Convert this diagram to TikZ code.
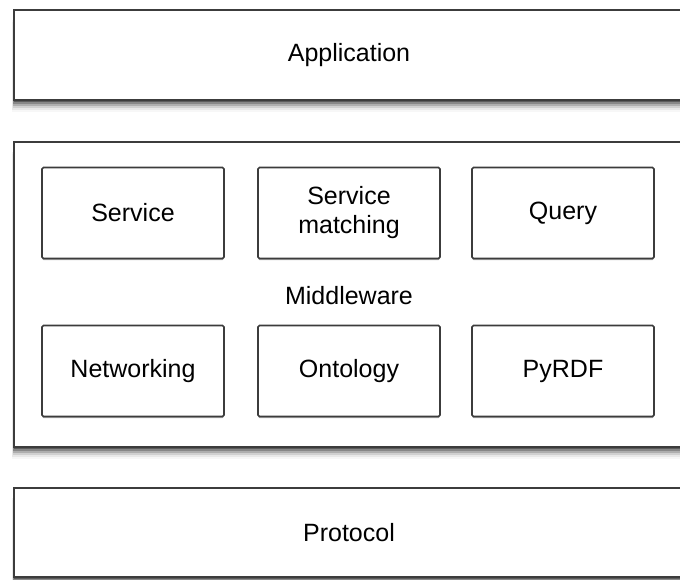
\documentclass[tikz,border=0pt]{standalone}
\usepackage{fontspec}
\setmainfont{Liberation Sans}
\usetikzlibrary{shadows}
\definecolor{edge}{HTML}{3C3C3C}
\begin{document}
\begin{tikzpicture}[x=1pt,y=-1pt,
  every node/.style={font=\fontsize{25}{29}\selectfont, text=black, inner sep=0pt},
  bigshadow/.style={
    drop shadow={shadow xshift=0pt, shadow yshift=-2pt, opacity=0.3, fill=black},
    drop shadow={shadow xshift=-1pt, shadow yshift=-4pt, opacity=0.22, fill=black},
    drop shadow={shadow xshift=-1pt, shadow yshift=-6pt, opacity=0.16, fill=black},
    drop shadow={shadow xshift=-1.5pt, shadow yshift=-8pt, opacity=0.1, fill=black},
    drop shadow={shadow xshift=-2pt, shadow yshift=-10pt, opacity=0.06, fill=black},
    drop shadow={shadow xshift=-2pt, shadow yshift=-12pt, opacity=0.03, fill=black}},
  layer/.style={draw=edge, line width=2pt, fill=white, rectangle, minimum width=670pt, bigshadow},
  module/.style={draw=edge, line width=1.6pt, fill=white, rectangle, rounded corners=1.5pt,
    minimum width=182pt, minimum height=91pt, align=center,
    drop shadow={shadow xshift=0pt, shadow yshift=-1.5pt, opacity=0.3, fill=black}}]
\useasboundingbox (0,0) rectangle (680,579);
\clip (0,0) rectangle (680,579);
\fill[white] (0,0) rectangle (680,579);
\node[layer, minimum height=90pt] (app) at (349,55) {Application};
\node[layer, minimum height=305pt] (mid) at (349,294.5) {};
\node (midlabel) at (349,296) {Middleware};
\node[layer, minimum height=89pt] (proto) at (349,532.5) {Protocol};
\node[module] (service) at (133,213) {Service};
\node[module] (matching) at (349,213) {Service\\matching};
\node[module] (query) at (563,213) {Query};
\node[module] (net) at (133,371) {Networking};
\node[module] (onto) at (349,371) {Ontology};
\node[module] (pyrdf) at (563,371) {PyRDF};
\end{tikzpicture}
\end{document}
